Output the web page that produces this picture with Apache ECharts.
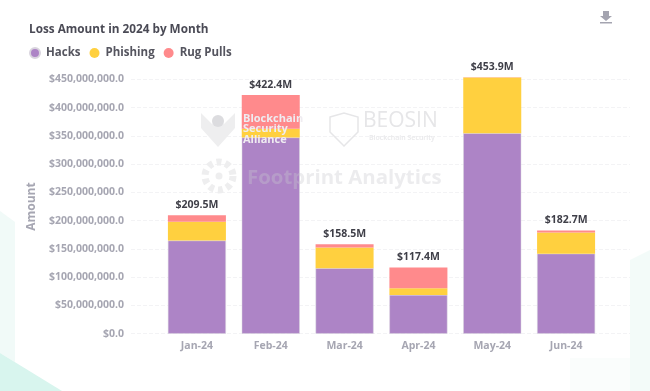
<!DOCTYPE html>
<html><head><meta charset="utf-8">
<style>html,body{margin:0;padding:0;background:#fff}#c{width:650px;height:391px;filter:blur(0.35px)}</style>
<script src="https://cdn.jsdelivr.net/npm/echarts@6/dist/echarts.min.js"></script>
</head><body><div id="c"></div>
<script>
const months = ['Jan-24','Feb-24','Mar-24','Apr-24','May-24','Jun-24'];
const hacks = [164.8,347.3,115.8,68.6,355.0,141.7];
const phishing = [33.6,15.4,36.6,11.8,98.5,37.3];
const rugPulls = [11.1,59.7,6.1,37.0,0.4,3.7];
const totals = ['$209.5M','$422.4M','$158.5M','$117.4M','$453.9M','$182.7M'];
const yTicksMax = 450000000, yTickStep = 50000000;
const M = 1000000;
const FONT = '"Open Sans","Noto Sans",sans-serif';
const toDollars = a => a.map(v => v * M);
const fmt = v => '$' + v.toLocaleString('en-US') + '.0';
const chart = echarts.init(document.getElementById('c'), null, {renderer:'canvas'});
const wmText = (x,y,text,size,color,weight,z) => ({type:'text',x,y,z:z||50,silent:true,
  style:{text,fontSize:size,fontFamily:FONT,fontWeight:weight||700,fill:color}});
const poly = (points,fill) => ({type:'polygon',z:-10,silent:true,shape:{points},style:{fill}});
chart.setOption({
  animation:false,
  backgroundColor:'#fff',
  color:['#AD84C6','#FFD03F','#FF8A8C'],
  title:{text:'Loss Amount in 2024 by Month',left:29,top:24,padding:0,
    textStyle:{fontFamily:FONT,fontSize:11.75,fontWeight:700,color:'#4a4a55'}},
  legend:{left:29,top:47,padding:0,icon:'circle',itemWidth:10,itemHeight:10,itemGap:9,
    data:['Hacks','Phishing','Rug Pulls'],
    textStyle:{fontFamily:FONT,fontSize:11.5,fontWeight:700,color:'#55555f',padding:[0,0,0,1]}},
  toolbox:{show:false},
  grid:[
    {left:160,width:443,top:79.5,height:254.2,containLabel:false},
    {left:131,width:499,top:79.5,height:254.2,containLabel:false}
  ],
  xAxis:[
    {type:'category',gridIndex:0,data:months,axisTick:{show:false},axisLine:{show:false},
      axisLabel:{margin:7,fontFamily:FONT,fontSize:10.5,fontWeight:700,color:'#a6a6b2'}},
    {type:'category',gridIndex:1,data:months,show:false}
  ],
  yAxis:[
    {type:'value',gridIndex:0,min:0,max:yTicksMax,interval:yTickStep,show:false,splitLine:{show:false}},
    {type:'value',gridIndex:1,min:0,max:yTicksMax,interval:yTickStep,
      name:'Amount',nameLocation:'middle',nameGap:83,nameRotate:90,
      nameTextStyle:{fontFamily:FONT,fontSize:12,fontWeight:700,color:'#a6a6b2'},
      axisLine:{show:false},axisTick:{show:false},
      axisLabel:{margin:7,formatter:fmt,fontFamily:FONT,fontSize:10.5,fontWeight:700,color:'#a6a6b2'},
      splitLine:{show:true,lineStyle:{type:'dashed',color:'#f3f3f5',width:1}}}
  ],
  series:[
    {name:'Hacks',type:'bar',stack:'a',barWidth:58,clip:false,data:toDollars(hacks),
      itemStyle:{borderColor:'#d9d4de',borderWidth:0.5}},
    {name:'Phishing',type:'bar',stack:'a',barWidth:58,clip:false,data:toDollars(phishing)},
    {name:'Rug Pulls',type:'bar',stack:'a',barWidth:58,clip:false,data:toDollars(rugPulls),
      label:{show:true,position:'top',distance:5,formatter:p => totals[p.dataIndex],
        fontFamily:FONT,fontSize:10.5,fontWeight:700,color:'#3f3f48'}},
    {type:'bar',xAxisIndex:1,yAxisIndex:1,data:[],silent:true,legendHoverLink:false}
  ],
  graphic:[
    poly([[0,211],[15,222],[15,362],[0,353]],'#f1faf8'),
    poly([[0,353],[62,391],[0,391]],'#d8f5ee'),
    poly([[630,260],[650,250],[650,391],[630,391]],'#f3fbf9'),
    poly([[570,358],[630,358],[630,391],[570,391]],'#fafdfc'),
    // download icon glyph
    poly([[603,11],[609,11],[609,16],[612,16],[606,21],[600,16],[603,16]],'#a4a4b0'),
    {type:'rect',z:5,silent:true,shape:{x:600,y:22,width:12,height:1.5},style:{fill:'#a4a4b0'}},
    // watermarks
    {type:'polygon',z:40,silent:true,shape:{points:[[201,113],[212,124],[218,117],[224,124],[235,113],[235,128],[218,147],[201,128]]},style:{fill:'#eeeeef'}},
    {type:'circle',z:40,silent:true,shape:{cx:218,cy:121,r:6},style:{fill:'#dcdcdf'}},
    wmText(243,113,'Blockchain',11,'#efecf1'),
    wmText(243,123,'Security',11,'#efecf1'),
    wmText(243,134,'Alliance',11,'#efecf1'),
    {type:'polygon',z:40,silent:true,shape:{points:[[330,117],[344,113],[358,117],[358,132],[344,146],[330,132]]},style:{fill:'none',stroke:'#e6e6e8',lineWidth:1.5}},
    wmText(363,111,'BEOSIN',21,'#e6e6e8',400),
    wmText(369,134,'Blockchain Security',7,'#e9e9eb',600),
    {type:'circle',z:40,silent:true,shape:{cx:219,cy:176,r:14},style:{fill:'none',stroke:'#eeeeef',lineWidth:7,lineDash:[5,4]}},
    {type:'circle',z:40,silent:true,shape:{cx:219,cy:176,r:3.5},style:{fill:'#eeeeef'}},
    wmText(247,168,'Footprint Analytics',20.4,'rgba(200,200,205,0.35)',700)
  ]
});
</script></body></html>
